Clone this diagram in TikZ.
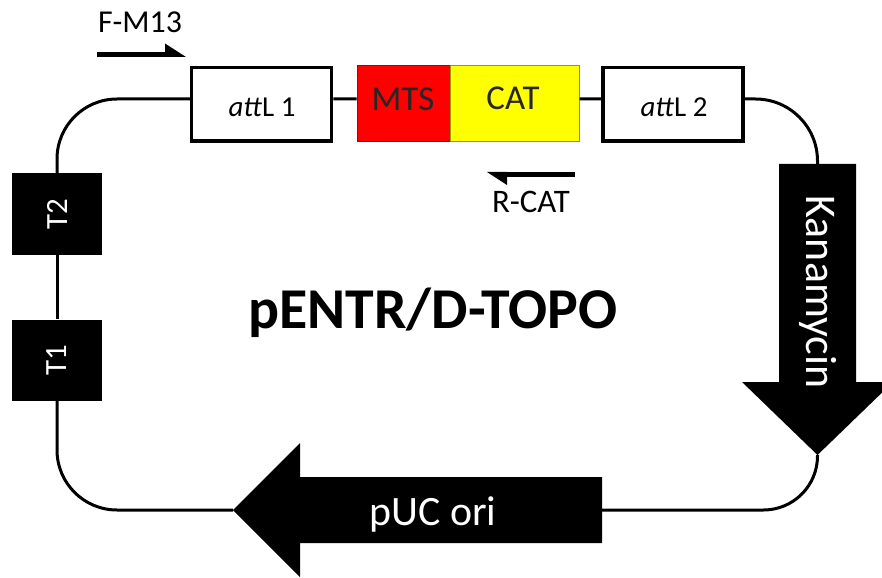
\documentclass[tikz,border=0pt]{standalone}
\usepackage{fontspec}
\setmainfont{Carlito}
\newcommand\fsz[1]{\fontsize{#1}{#1}\selectfont}
\definecolor{mtsred}{HTML}{FF0000}
\definecolor{catyel}{HTML}{FFFF00}
\begin{document}
\begin{tikzpicture}[x=1bp,y=-1bp,
  loopline/.style={line width=3bp},
  attbox/.style={draw=black, line width=3.5bp, fill=white, minimum width=140bp, minimum height=73.5bp, inner sep=0pt},
  tbox/.style={fill=black, minimum width=90bp, minimum height=81bp, inner sep=0pt},
  lbl/.style={inner sep=0pt, font=\fsz{29}},
  primer/.style={line width=5bp}]
\useasboundingbox (0,0) rectangle (882,578);
\clip (0,0) rectangle (882,578);
% feature boxes
\node[attbox] (attL1) at (261.5,104.5) {};
\node[draw=mtsred!70!black, line width=1bp, fill=mtsred, minimum width=93bp, minimum height=76bp, inner sep=0pt] (MTS) at (403.5,104) {};
\node[draw=catyel!60!black, line width=1bp, fill=catyel, minimum width=129bp, minimum height=76bp, inner sep=0pt] (CAT) at (514.5,104) {};
\node[attbox] (attL2) at (673,104.5) {};
\node[tbox] (T2) at (57,214) {};
\node[tbox] (T1) at (57,360) {};
% kanamycin arrow
\coordinate (kantop) at (817.5,164);
\coordinate (kantip) at (817.5,455);
\fill[black] (779,164) -- (856,164) -- (856,382) -- (893,382) -- (kantip) -- (742,382) -- (779,382) -- cycle;
% pUC ori arrow
\coordinate (pucend) at (602,510);
\coordinate (puctip) at (233,510);
\fill[black] (602,477) -- (602,543) -- (300,543) -- (300,577) -- (puctip) -- (300,443) -- (300,477) -- cycle;
% backbone
\draw[loopline, rounded corners=60bp] ([yshift=5.5bp]attL1.west) -| (T2.north);
\draw[loopline] (T2.south) -- (T1.north);
\draw[loopline, rounded corners=60bp] (T1.south) |- (puctip);
\draw[loopline, rounded corners=54bp] (pucend) -| (kantip);
\draw[loopline, rounded corners=62bp] (kantop) |- ([yshift=5.5bp]attL2.east);
\draw[loopline] ([yshift=5.5bp]attL2.west) -- ([yshift=5bp]CAT.east);
\draw[loopline] ([yshift=5bp]MTS.west) -- ([yshift=5.5bp]attL1.east);
% labels in boxes
\node[lbl, anchor=base, font=\fsz{29}] (attL1lbl) at (262,117) {\textit{att}L 1};
\node[lbl, anchor=base, font=\fsz{29}] (attL2lbl) at (674,117) {\textit{att}L 2};
\node[lbl, anchor=base, font=\fsz{35}, text=black!85] (MTSlbl) at (403,111) {MTS};
\node[lbl, anchor=base, font=\fsz{35}, text=black!85] (CATlbl) at (513,110) {CAT};
\node[lbl, text=white, rotate=90, font=\fsz{31}] (T2lbl) at (T2) {T2};
\node[lbl, text=white, rotate=90, font=\fsz{31}] (T1lbl) at (T1) {T1};
\node[lbl, text=white, rotate=-90, font=\fsz{44}] (kanlbl) at (818,292) {Kanamycin};
\node[lbl, text=white, anchor=base, font=\fsz{42}] (puclbl) at (433,525) {pUC ori};
\node[lbl, anchor=base, font=\bfseries\fsz{58}] (title) at (433,328) {pENTR/D-TOPO};
% primers
\coordinate (fms) at (97,54.5);
\coordinate (fme) at (170,54.5);
\draw[primer] (fms) -- (fme);
\fill[black] (165,43.5) -- (186,57) -- (165,57) -- cycle;
\node[lbl, anchor=base, font=\fsz{32}] (fmlbl) at (140,33) {F-M13};
\coordinate (rcs) at (575,174.5);
\coordinate (rce) at (500,174.5);
\draw[primer] (rcs) -- (rce);
\fill[black] (507,185) -- (487,172) -- (507,172) -- cycle;
\node[lbl, anchor=base, font=\fsz{33}] (rclbl) at (531,213) {R-CAT};
\end{tikzpicture}
\end{document}
